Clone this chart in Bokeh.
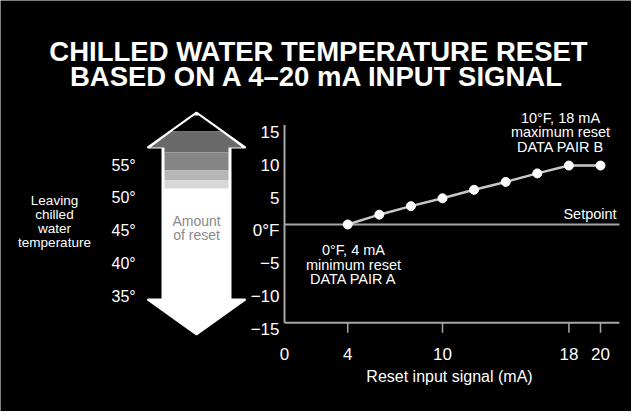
from bokeh.plotting import figure
from bokeh.models import Range1d
from bokeh.core.properties import value
from bokeh.embed import file_html
from bokeh.resources import INLINE

# ---------------- data ----------------
signal_ma = [4, 6, 8, 10, 12, 14, 16, 18, 20]
reset_f = [0, 1.5, 2.8, 4.0, 5.3, 6.5, 7.8, 9.0, 9.0]

x_ticks = [0, 4, 10, 18, 20]
x_tick_labels = ["0", "4", "10", "18", "20"]
y_ticks = [15, 10, 5, 0, -5, -10, -15]
y_tick_labels = ["15", "10", "5", "0°F", "−5", "−10", "−15"]

temps = [55, 50, 45, 40, 35]
temp_labels = ["55°", "50°", "45°", "40°", "35°"]
setpoint_temp = 45

title_lines = ["CHILLED WATER TEMPERATURE RESET", "BASED ON A 4–20 mA INPUT SIGNAL"]
x_title = "Reset input signal (mA)"
left_title = ["Leaving", "chilled", "water", "temperature"]
arrow_text = ["Amount", "of reset"]
pair_b = ["10°F, 18 mA", "maximum reset", "DATA PAIR B"]
pair_a = ["0°F, 4 mA", "minimum reset", "DATA PAIR A"]
setpoint_label = "Setpoint"

# ---------------- layout ----------------
W, H = 631, 411
M = 8
X0 = 292.0      # page x of 0 mA
SX = 15.8       # px per mA
Y0 = 232.0      # page y of 0 °F
SY = 6.55       # px per °F
X_AXIS_END = 21.2
Y_AXIS_TOP = 15.2
FONT = value("Liberation Sans")

p = figure(width=W, height=H,
           x_range=Range1d((M - X0) / SX, (M + W - X0) / SX),
           y_range=Range1d((Y0 - (M + H)) / SY, (Y0 - M) / SY),
           output_backend="svg", toolbar_location=None, min_border=0,
           x_axis_location=None, y_axis_location=None,
           background_fill_color="black", border_fill_color="black",
           outline_line_color=None)
p.xgrid.visible = False
p.ygrid.visible = False
p.extra_x_ranges = {"page": Range1d(M, M + W)}
p.extra_y_ranges = {"page": Range1d(M + H, M)}

PG = dict(x_range_name="page", y_range_name="page")

# title
p.text(x=[326, 325], y=[58.5, 84], text=title_lines, text_align="center",
       text_baseline="alphabetic", text_color="white", text_font=FONT,
       text_font_size="27.5px", text_font_style="bold", **PG)

# ---------------- arrow (schematic) ----------------
AX = 204.0
TIP_T, BASE_T, BASE_B, TIP_B = 120.0, 155.0, 307.0, 342.0
HEAD, SHAFT = 49.0, 34.0


def half_width(y):
    if y <= BASE_T:
        return HEAD * (y - TIP_T) / (BASE_T - TIP_T)
    if y <= BASE_B:
        return SHAFT
    return HEAD * (TIP_B - y) / (TIP_B - BASE_B)


outline_x = [AX, AX + HEAD, AX + SHAFT, AX + SHAFT, AX + HEAD, AX,
             AX - HEAD, AX - SHAFT, AX - SHAFT, AX - HEAD]
outline_y = [TIP_T, BASE_T, BASE_T, BASE_B, BASE_B, TIP_B,
             BASE_B, BASE_B, BASE_T, BASE_T]
p.patch(outline_x, outline_y, fill_color="white", line_color="white",
        line_width=2, **PG)


def band(y0, y1, inset=2.0):
    if y0 < BASE_T < y1:
        ys = [y0, BASE_T, BASE_T + 0.01, y1]
        xl = [AX - max(half_width(y0) - inset, 0), AX - (HEAD - inset - 1),
              AX - (SHAFT - inset), AX - (SHAFT - inset)]
        xr = [AX + max(half_width(y0) - inset, 0), AX + (HEAD - inset - 1),
              AX + (SHAFT - inset), AX + (SHAFT - inset)]
    else:
        ys = [y0, y1]
        xl = [AX - max(half_width(y) - inset, 0) for y in ys]
        xr = [AX + max(half_width(y) - inset, 0) for y in ys]
    return xl + xr[::-1], ys + ys[::-1]


bands = [(TIP_T + 3, 139, "black"), (139, 160, "#6a6a6a"),
         (160, 178, "#858585"), (178, 188, "#b6b6b6"), (188, 196, "#d8d8d8")]
for y0, y1, col in bands:
    bx, by = band(y0, y1)
    p.patch(bx, by, fill_color=col, line_color=None, **PG)

p.text(x=[AX, AX], y=[228, 242], text=arrow_text, text_align="center",
       text_baseline="alphabetic", text_color="#8a8a8a", text_font=FONT,
       text_font_size="14px", **PG)

# left caption
p.text(x=[62] * 4, y=[208, 222, 236, 250], text=left_title, text_align="center",
       text_baseline="alphabetic", text_color="white", text_font=FONT,
       text_font_size="13.5px", **PG)

# temperature scale (aligned so setpoint temp sits at 0 °F reset)
p.text(x=[119] * len(temps), y=[t - setpoint_temp for t in temps],
       text=temp_labels, text_align="left", text_baseline="alphabetic",
       y_offset=6, text_color="white", text_font=FONT, text_font_size="16px",
       x_range_name="page")

# ---------------- axes ----------------
AXC = "#a8a8a8"
p.segment(x0=[0], y0=[y_ticks[-1]], x1=[0], y1=[Y_AXIS_TOP], line_color=AXC, line_width=2)
p.segment(x0=[0], y0=[y_ticks[-1]], x1=[X_AXIS_END], y1=[y_ticks[-1]], line_color=AXC, line_width=2)
# setpoint line
p.segment(x0=[0], y0=[0], x1=[X_AXIS_END], y1=[0], line_color=AXC, line_width=2)

tick_len = 10 / SY
tx = [t for t in x_ticks if t != 0]
p.segment(x0=tx, y0=[y_ticks[-1]] * len(tx), x1=tx, y1=[y_ticks[-1] - tick_len] * len(tx),
          line_color=AXC, line_width=1.5)

p.text(x=x_ticks, y=[361] * len(x_ticks), text=x_tick_labels, text_align="center",
       text_baseline="alphabetic", text_color="white", text_font=FONT,
       text_font_size="17px", y_range_name="page")
p.text(x=[287] * len(y_ticks), y=y_ticks, text=y_tick_labels, text_align="right",
       text_baseline="alphabetic", y_offset=6, text_color="white", text_font=FONT,
       text_font_size="17px", x_range_name="page")

p.text(x=[457], y=[383.5], text=[x_title], text_align="center",
       text_baseline="alphabetic", text_color="white", text_font=FONT,
       text_font_size="16px", **PG)

# ---------------- data series ----------------
p.line(signal_ma, reset_f, line_color="#c8c8c8", line_width=2.5)
p.scatter(signal_ma, reset_f, size=9, fill_color="white", line_color="white")

# annotations
p.text(x=[568] * 3, y=[125, 139.5, 154], text=pair_b, text_align="center",
       text_baseline="alphabetic", text_color="white", text_font=FONT,
       text_font_size="14.5px", **PG)
p.text(x=[361] * 3, y=[257.5, 272, 286.5], text=pair_a, text_align="center",
       text_baseline="alphabetic", text_color="white", text_font=FONT,
       text_font_size="14.5px", **PG)
p.text(x=[597.5], y=[221.5], text=[setpoint_label], text_align="center",
       text_baseline="alphabetic", text_color="white", text_font=FONT,
       text_font_size="14.5px", **PG)

open("out.html", "w").write(file_html(p, INLINE))
